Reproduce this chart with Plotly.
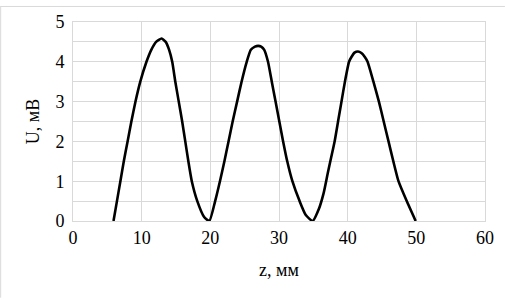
import plotly.graph_objects as go

z_mm = [5.9, 6.4, 6.9, 7.4, 7.95, 8.5, 9.1, 9.8, 10.7, 11.4, 12.1, 12.9, 13.5, 14.0, 14.45, 14.9, 15.4, 15.9, 16.35, 16.8, 17.3, 18.1, 19.1, 19.85,
        20.7, 21.4, 22.05, 22.65, 23.25, 23.9, 24.55, 25.3, 25.9, 26.5, 26.96, 27.4, 27.85, 28.4, 28.95, 29.5, 30.05, 30.6, 31.2, 31.95, 33.0, 33.9, 34.9,
        35.8, 36.5, 37.1, 37.6, 38.1, 38.6, 39.1, 39.6, 40.2, 40.55, 41.0, 41.5, 42.0, 42.5, 42.9, 43.75, 44.55, 45.25, 45.95, 46.65, 47.4, 48.6, 49.9]
u_mv = [0.0, 0.5, 1.0, 1.5, 2.0, 2.5, 3.0, 3.5, 4.0, 4.3, 4.5, 4.585, 4.5, 4.3, 4.0, 3.5, 3.0, 2.5, 2.0, 1.5, 1.0, 0.5, 0.1, 0.0,
        0.5, 1.0, 1.5, 2.0, 2.5, 3.0, 3.5, 4.0, 4.3, 4.38, 4.40, 4.38, 4.3, 4.0, 3.5, 3.0, 2.5, 2.0, 1.5, 1.0, 0.5, 0.15, 0.0,
        0.3, 0.7, 1.2, 1.6, 2.0, 2.5, 3.0, 3.5, 4.0, 4.12, 4.23, 4.26, 4.22, 4.12, 4.0, 3.5, 3.0, 2.5, 2.0, 1.5, 1.0, 0.5, 0.0]

x_ticks = [0, 10, 20, 30, 40, 50, 60]
y_ticks = [0, 1, 2, 3, 4, 5]

font_family = "Liberation Serif, Times New Roman, serif"

fig = go.Figure()
fig.add_trace(go.Scatter(x=z_mm, y=u_mv, mode="lines",
                         line=dict(color="black", width=2.6, shape="spline", smoothing=0.5),
                         showlegend=False, hoverinfo="skip"))

fig.update_layout(
    width=506, height=300,
    margin=dict(l=73, r=20, t=16, b=79),
    paper_bgcolor="white", plot_bgcolor="white",
    font=dict(family=font_family, size=18, color="black"),
    xaxis=dict(range=[0, 60], tickvals=x_ticks, ticktext=[str(v) for v in x_ticks],
               showgrid=True, gridcolor="#d9d9d9", gridwidth=1,
               showline=True, linecolor="#d9d9d9", linewidth=1, mirror=True,
               zeroline=False, ticks="", ticklabelstandoff=0,
               title=dict(text="z, мм", font=dict(size=18), standoff=16)),
    yaxis=dict(range=[0, 5], tickvals=y_ticks, ticktext=[str(v) for v in y_ticks],
               showgrid=True, gridcolor="#d9d9d9", gridwidth=1,
               showline=True, linecolor="#d9d9d9", linewidth=1, mirror=True,
               zeroline=False, ticks="", ticklabelstandoff=4,
               minor=dict(dtick=0.5, showgrid=True, gridcolor="#d9d9d9", gridwidth=1),
               title=dict(text="U, мВ", font=dict(size=18), standoff=11)),
    shapes=[
        dict(type="line", xref="paper", yref="paper", x0=-73/413, x1=1+20/413, y0=1+16/205, y1=1+16/205,
             line=dict(color="#d9d9d9", width=1)),
        dict(type="line", xref="paper", yref="paper", x0=-72.5/413, x1=-72.5/413, y0=-79/205, y1=1+16/205,
             line=dict(color="#d9d9d9", width=1)),
    ],
)

fig.write_html("out.html")
